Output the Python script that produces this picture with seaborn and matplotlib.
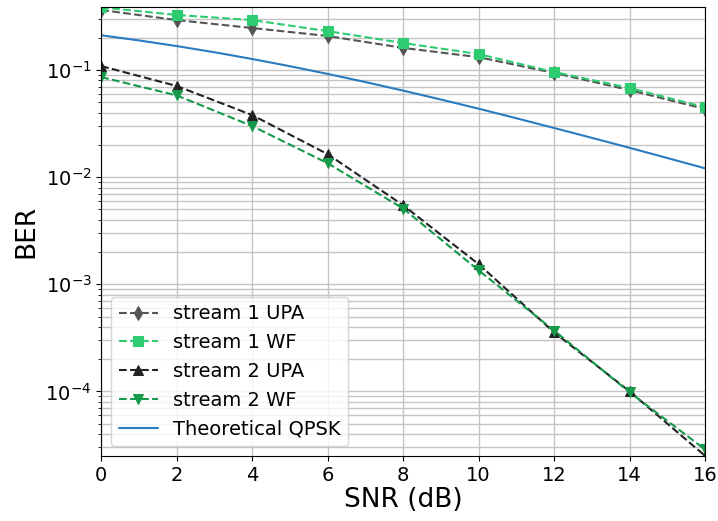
import numpy as np
import pandas as pd
import matplotlib
matplotlib.use("Agg")
import matplotlib.pyplot as plt
import seaborn as sns

# SNR points of the simulated curves (dB)
snr_sim = [0, 2, 4, 6, 8, 10, 12, 14, 16]

s1_upa = [0.364, 0.293, 0.247, 0.208, 0.161, 0.132, 0.094, 0.065, 0.0433]
s1_wf = [0.385, 0.327, 0.293, 0.231, 0.179, 0.141, 0.096, 0.068, 0.045]
s2_upa = [0.109, 0.071, 0.038, 0.0164, 0.00547, 0.00154, 0.000356, 0.000100, 0.0000250]
s2_wf = [0.086, 0.058, 0.030, 0.0135, 0.0051, 0.00135, 0.00037, 0.000098, 0.0000287]

# theoretical curve read at every dB
snr_theory = list(range(0, 17))
qpsk_theory = [0.2113, 0.1892, 0.1675, 0.1467, 0.1269, 0.1087, 0.0921, 0.0773,
               0.0643, 0.0531, 0.0436, 0.0355, 0.0288, 0.0233, 0.0188, 0.0151, 0.0121]

series = [
    ("stream 1 UPA", s1_upa, "#555555", "d"),
    ("stream 1 WF", s1_wf, "#2ecc71", "s"),
    ("stream 2 UPA", s2_upa, "#222222", "^"),
    ("stream 2 WF", s2_wf, "#159a4b", "v"),
]

sns.set_style("ticks", {"axes.edgecolor": "black", "text.color": "black",
                        "axes.labelcolor": "black", "xtick.color": "black",
                        "ytick.color": "black"})
plt.rcParams['font.family'] = ['DejaVu Sans']

fig, ax = plt.subplots(figsize=(7.18, 5.21), dpi=100)
fig.subplots_adjust(left=0.141, right=0.982, top=0.987, bottom=0.125)

for name, vals, col, mk in series:
    df = pd.DataFrame({"SNR": snr_sim, "BER": vals})
    sns.lineplot(data=df, x="SNR", y="BER", ax=ax, color=col, marker=mk,
                 linestyle="--", markersize=7, markeredgecolor=col,
                 linewidth=1.5, label=name)

df_t = pd.DataFrame({"SNR": snr_theory, "BER": qpsk_theory})
sns.lineplot(data=df_t, x="SNR", y="BER", ax=ax, color="#2a7bbf",
             linewidth=1.5, label="Theoretical QPSK")

ax.set_yscale("log")
ax.set_xlim(0, 16)
ax.set_ylim(min(s2_upa), 0.39)
ax.set_xticks(range(0, 17, 2))
ax.grid(True, which="major", color="#c4c4c4", linewidth=1)
ax.grid(True, which="minor", axis="y", color="#c4c4c4", linewidth=1)
ax.tick_params(labelsize=14)
ax.set_xlabel("SNR (dB)", fontsize=19, labelpad=2)
ax.set_ylabel("BER", fontsize=19)
ax.legend(loc="lower left", fontsize=14, framealpha=0.8, handlelength=2)

fig.savefig("out.png", dpi=100)
